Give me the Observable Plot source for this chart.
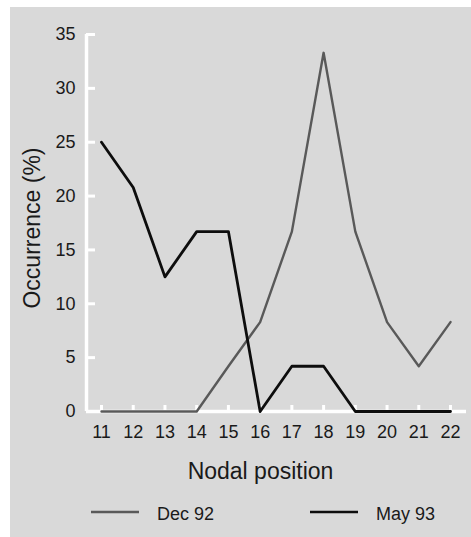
<!DOCTYPE html>
<html>
<head>
<meta charset="utf-8">
<script src="https://cdn.jsdelivr.net/npm/d3@7"></script>
<script src="https://cdn.jsdelivr.net/npm/@observablehq/plot@0.6"></script>
<style>
  html, body { margin: 0; padding: 0; background: #ffffff; }
  #chart { position: absolute; left: 10px; top: 7px; }
  #chart svg { background: #d9d9d9; display: block; }
</style>
</head>
<body>
<div id="chart"></div>
<script>
const positions = [11, 12, 13, 14, 15, 16, 17, 18, 19, 20, 21, 22];
const dec92 = [0, 0, 0, 0, 4.2, 8.3, 16.7, 33.3, 16.7, 8.3, 4.2, 8.3];
const may93 = [25, 20.8, 12.5, 16.7, 16.7, 0, 4.2, 4.2, 0, 0, 0, 0];
const yTicks = [0, 5, 10, 15, 20, 25, 30, 35];
const seriesNames = ["Dec 92", "May 93"];
const xTitle = "Nodal position";
const yTitle = "Occurrence (%)";

const colors = {"Dec 92": "#595959", "May 93": "#0d0d0d"};
const font = "'Liberation Sans', Arial, Helvetica, sans-serif";

const rows = [];
positions.forEach((p, i) => {
  rows.push({pos: p, value: dec92[i], series: seriesNames[0]});
  rows.push({pos: p, value: may93[i], series: seriesNames[1]});
});

const W = 461, H = 530;
const xDomain = [10.527, 22.504];
const yDomain = [0, 35];
// tick lengths expressed through scale units (px / px-per-unit)
const pxPerX = (W - 76 - 5) / (xDomain[1] - xDomain[0]);
const pxPerY = (H - 27 - 126) / (yDomain[1] - yDomain[0]);

const plot = Plot.plot({
  width: W,
  height: H,
  marginLeft: 76,
  marginRight: 5,
  marginTop: 27,
  marginBottom: 126,
  style: {fontFamily: font, color: "#1a1a1a", background: "#d9d9d9"},
  x: {domain: xDomain, axis: null},
  y: {domain: yDomain, axis: null},
  marks: [
    Plot.ruleX([xDomain[0]], {stroke: "white", strokeWidth: 3.5}),
    Plot.ruleY([0], {stroke: "white", strokeWidth: 3.5}),
    Plot.ruleY(yTicks, {y: d => d, x1: xDomain[0], x2: xDomain[0] + 9 / pxPerX, stroke: "white", strokeWidth: 3}),
    Plot.ruleX(positions, {x: d => d, y1: 0, y2: 6 / pxPerY, stroke: "white", strokeWidth: 3}),
    Plot.axisY(yTicks, {tickSize: 0, tickPadding: 11, fontSize: 18, fill: "#1a1a1a", label: null}),
    Plot.axisX(positions, {tickSize: 0, tickPadding: 14, fontSize: 18, fill: "#1a1a1a", label: null}),
    Plot.text([xTitle], {frameAnchor: "bottom", text: d => d, dx: -16, dy: 60, textAnchor: "middle", lineAnchor: "middle", fontSize: 23, fill: "#1a1a1a"}),
    Plot.text([yTitle], {frameAnchor: "left", text: d => d, rotate: -90, dx: -54, dy: 5, textAnchor: "middle", lineAnchor: "middle", fontSize: 23, fill: "#1a1a1a"}),
    Plot.line(rows.filter(d => d.series === seriesNames[0]), {x: "pos", y: "value", stroke: colors[seriesNames[0]], strokeWidth: 2.4}),
    Plot.line(rows.filter(d => d.series === seriesNames[1]), {x: "pos", y: "value", stroke: colors[seriesNames[1]], strokeWidth: 2.8})
  ]
});

// legend inside the svg, below the plot area
const svg = d3.select(plot);
const legendY = 505;
const legendItems = [
  {name: seriesNames[0], x0: 81, x1: 129, tx: 147},
  {name: seriesNames[1], x0: 300, x1: 348, tx: 366}
];
const lg = svg.append("g").attr("font-family", font).attr("font-size", 18)
  .attr("fill", "#1a1a1a").attr("text-anchor", "start");
legendItems.forEach(it => {
  lg.append("line").attr("x1", it.x0).attr("x2", it.x1).attr("y1", legendY).attr("y2", legendY)
    .attr("stroke", colors[it.name]).attr("stroke-width", 2.4);
  lg.append("text").attr("x", it.tx).attr("y", legendY + 2).attr("dy", "0.35em").text(it.name);
});

document.getElementById("chart").appendChild(plot);
</script>
</body>
</html>
